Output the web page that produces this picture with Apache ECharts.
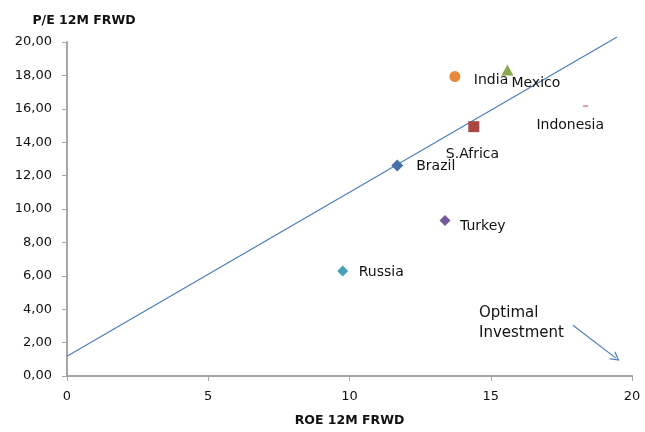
<!DOCTYPE html>
<html>
<head>
<meta charset="utf-8">
<script src="https://cdn.jsdelivr.net/npm/echarts@6/dist/echarts.min.js"></script>
<style>
  html, body { margin: 0; padding: 0; background: #fff; }
  #chart { width: 645px; height: 432px; }
</style>
</head>
<body>
<div id="chart"></div>
<script>
// Countries: ROE 12M forward (x) vs P/E 12M forward (y)
const countries = ['Brazil', 'India', 'Mexico', 'S.Africa', 'Indonesia', 'Turkey', 'Russia'];
const roe = [11.69, 13.73, 15.59, 14.40, 18.35, 13.38, 9.76];
const pe  = [12.60, 17.93, 18.33, 14.93, 16.16, 9.31, 6.29];

// Fitted trend line end points (x, y)
const trendX = [0, 19.47];
const trendY = [1.18, 20.30];

// Axis ticks
const xTicks = [0, 5, 10, 15, 20];
const yTicks = [0, 2, 4, 6, 8, 10, 12, 14, 16, 18, 20];

// Arrow pointing towards the "optimal investment" corner
const arrowX = [17.91, 19.43];
const arrowY = [3.04, 1.07];

// Per-country marker styling
const styles = {
  'Brazil':    { color: '#4472A8', symbol: 'diamond',  size: [12, 12], off: [19, 1] },
  'India':     { color: '#E8893A', symbol: 'circle',   size: [11, 11], off: [19, 4] },
  'Mexico':    { color: '#8AA64E', symbol: 'triangle', size: [12, 11], off: [4, 13] },
  'S.Africa':  { color: '#AA4643', symbol: 'rect',     size: [11, 11], off: [-28, 28] },
  'Indonesia': { color: '#E09AA4', symbol: 'rect',     size: [5, 2],   off: [-49, 19] },
  'Turkey':    { color: '#76599A', symbol: 'diamond',  size: [11, 11], off: [15, 6] },
  'Russia':    { color: '#45A0B8', symbol: 'diamond',  size: [11, 11], off: [16, 1] }
};

const FONT = 'DejaVu Sans';
const chart = echarts.init(document.getElementById('chart'), null, { renderer: 'canvas' });

const scatterSeries = countries.map((name, i) => {
  const s = styles[name];
  return {
    name: name,
    type: 'scatter',
    symbol: s.symbol,
    symbolSize: s.size,
    itemStyle: { color: s.color, opacity: 1 },
    label: {
      show: true,
      position: 'inside',
      align: 'left',
      verticalAlign: 'middle',
      offset: s.off,
      formatter: name,
      color: '#111',
      fontFamily: FONT,
      fontSize: 14
    },
    z: 3,
    data: [[roe[i], pe[i]]]
  };
});

// Thin open chevron used as the arrow head
const chevron = 'path://M0,10 L5,0 L10,10 L8.6,10 L5,2.8 L1.4,10 Z';

const option = {
  animation: false,
  backgroundColor: '#ffffff',
  grid: { left: 67, right: 13, top: 42, bottom: 55, containLabel: false },
  xAxis: {
    type: 'value',
    min: xTicks[0],
    max: xTicks[xTicks.length - 1],
    interval: 5,
    name: 'ROE 12M FRWD',
    nameLocation: 'middle',
    nameGap: 38,
    nameTextStyle: { fontFamily: FONT, fontWeight: 'bold', fontSize: 12.5, color: '#111' },
    axisLine: { onZero: false, lineStyle: { color: '#A6A6A6', width: 2 } },
    axisTick: { show: true, length: 5, lineStyle: { color: '#A6A6A6', width: 1 } },
    axisLabel: { margin: 14, fontFamily: FONT, fontSize: 13, color: '#111' },
    splitLine: { show: false }
  },
  yAxis: {
    type: 'value',
    min: yTicks[0],
    max: yTicks[yTicks.length - 1],
    interval: 2,
    name: 'P/E 12M FRWD',
    nameLocation: 'end',
    nameGap: 15,
    nameTextStyle: { fontFamily: FONT, fontWeight: 'bold', fontSize: 12.5, color: '#111', align: 'center', padding: [0, 0, 0, 34] },
    axisLine: { show: true, onZero: false, lineStyle: { color: '#A6A6A6', width: 2 } },
    axisTick: { show: true, length: 5, lineStyle: { color: '#A6A6A6', width: 1 } },
    axisLabel: {
      margin: 15,
      fontFamily: FONT,
      fontSize: 13,
      color: '#111',
      formatter: v => v.toFixed(2).replace('.', ',')
    },
    splitLine: { show: false }
  },
  graphic: [
    {
      type: 'text',
      left: 479,
      top: 303,
      style: {
        text: 'Optimal\nInvestment',
        fontFamily: FONT,
        fontSize: 15,
        lineHeight: 20,
        fill: '#111'
      }
    }
  ],
  series: [
    {
      name: 'Trend',
      type: 'line',
      clip: false,
      showSymbol: false,
      symbol: 'none',
      lineStyle: { color: '#4A7EBB', width: 1.2 },
      z: 2,
      data: trendX.map((x, i) => [x, trendY[i]]),
      markLine: {
        silent: true,
        symbol: ['none', chevron],
        symbolSize: [10, 9],
        label: { show: false },
        lineStyle: { color: '#4A7EBB', width: 1.2, type: 'solid' },
        data: [[
          { coord: [arrowX[0], arrowY[0]] },
          { coord: [arrowX[1], arrowY[1]] }
        ]]
      }
    },
    ...scatterSeries
  ]
};

chart.setOption(option);
</script>
</body>
</html>
